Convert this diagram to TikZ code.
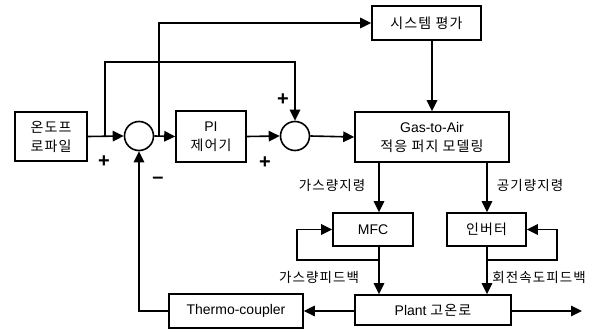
\documentclass[tikz,border=0pt]{standalone}
\usepackage{fontspec}
\setmainfont{Liberation Sans}
\newfontfamily\kr[LetterSpace=8]{Noto Sans CJK KR}
\usetikzlibrary{arrows.meta}
\begin{document}
\begin{tikzpicture}[x=1pt,y=-1pt,line width=1.6pt,
  box/.style={draw,line width=1.6pt,inner sep=0pt,align=center,font=\fontsize{14}{19}\selectfont},
  sumc/.style={draw,circle,line width=1.6pt,minimum size=29pt,inner sep=0pt},
  arr/.style={-{Triangle[length=11pt,width=10.5pt]}},
  lbl/.style={font=\kr\fontsize{13.5}{16}\selectfont,inner sep=0pt},
  sgn/.style={font=\bfseries\fontsize{20}{20}\selectfont,inner sep=0pt}]
\useasboundingbox (0,0) rectangle (597,336);
% blocks
\node[box,minimum width=72pt,minimum height=49pt] (tp) at (51,136.5) {\kr 온도프\\\kr 로파일};
\node[sumc] (s1) at (139,136) {};
\node[box,minimum width=70pt,minimum height=51pt] (pi) at (211,136.5) {PI\\\kr 제어기};
\node[sumc] (s2) at (295,136) {};
\node[box,minimum width=109pt,minimum height=34pt] (sys) at (426.5,23) {\kr 시스템 평가};
\node[box,minimum width=154pt,minimum height=50pt] (gas) at (432,137) {Gas-to-Air\\\kr 적응 퍼지 모델링};
\node[box,minimum width=80pt,minimum height=33pt] (mfc) at (373,229.5) {MFC};
\node[box,minimum width=79pt,minimum height=33pt] (inv) at (486.5,229.5) {\kr 인버터};
\node[box,minimum width=156pt,minimum height=30pt] (plant) at (433,310) {Plant {\kr 고온로}};
\node[box,minimum width=134pt,minimum height=34pt] (th) at (236,311) {Thermo-coupler};
% helper coordinates
\coordinate (b1) at (105,62);
\coordinate (b2) at (159,23);
\coordinate (vs) at (432,0);
\coordinate (vg) at (379,0);
\coordinate (va) at (487,0);
\coordinate (ml) at (297,260);
\coordinate (il) at (557,260);
\coordinate (out) at (582,311);
% connectors
\draw[arr] (tp.east) -- (s1.west);
\draw[arr] (b1 |- tp.east) -- (b1) -| (s2.north);
\draw[arr] (s1.east) -- (pi.west);
\draw[arr] (b2 |- s1.east) -- (b2) -- (sys.west);
\draw[arr] (pi.east) -- (s2.west);
\draw[arr] (s2.east) -- (gas.west);
\draw[arr] (sys.south -| vs) -- (gas.north -| vs);
\draw[arr] (gas.south -| vg) -- (mfc.north -| vg);
\draw[arr] (gas.south -| va) -- (inv.north -| va);
\draw[arr] (mfc.south -| vg) -- (plant.north -| vg);
\draw[arr] (inv.south -| va) -- (plant.north -| va);
\draw[arr] (ml -| vg) -- (ml) |- (mfc.west);
\draw[arr] (il -| va) -- (il) |- (inv.east);
\draw[arr] (plant.west |- th.east) -- (th.east);
\draw[arr] (plant.east |- out) -- (out);
\draw[arr] (th.west) -| (s1.south);
% labels
\node[lbl] (l1) at (332,185) {가스량지령};
\node[lbl] (l2) at (530,185) {공기량지령};
\node[lbl] (l3) at (319,277) {가스량피드백};
\node[lbl] (l4) at (539,277) {회전속도피드백};
% signs
\node[sgn] (p1) at (104,162) {+};
\node[sgn] (p2) at (265,163) {+};
\node[sgn] (p3) at (283,100) {+};
\node[sgn] (m1) at (158,180) {–};
\end{tikzpicture}
\end{document}
